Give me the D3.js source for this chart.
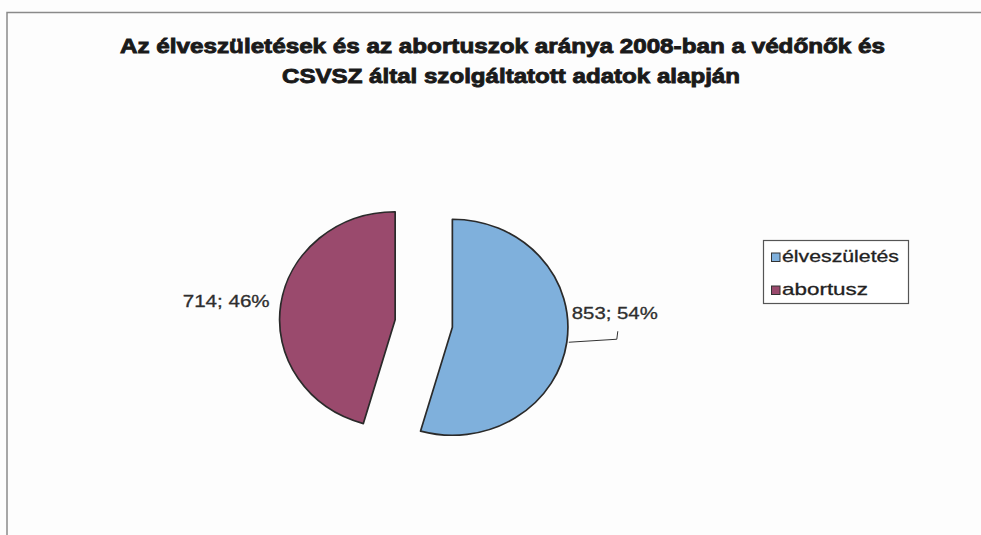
<!DOCTYPE html>
<html>
<head>
<meta charset="utf-8">
<script src="https://cdn.jsdelivr.net/npm/d3@7"></script>
<style>
  html, body { margin: 0; padding: 0; background: #fdfdfd; }
  svg { display: block; }
</style>
</head>
<body>
<svg id="chart" width="981" height="535"></svg>
<script>
// Births vs. abortions, 2008 (health visitors' and CSVSZ data)
const categories = ["élveszületés", "abortusz"];
const values = [853, 714];
const colors = ["#7fb0dc", "#9a4a6d"];
const titleLines = [
  "Az élveszületések és az abortuszok aránya 2008-ban a védőnők és",
  "CSVSZ által szolgáltatott adatok alapján"
];

const svg = d3.select("#chart");
const W = 981, H = 535;

svg.append("rect").attr("width", W).attr("height", H).attr("fill", "#fdfdfd");

// frame (top and left edges of the chart area)
svg.append("path")
  .attr("d", "M7,535 V12.5 H981")
  .attr("fill", "none")
  .attr("stroke", "#8a8a8a")
  .attr("stroke-width", 1.5);

// title
const titleSpec = [
  { y: 53, x0: 120, x1: 885 },
  { y: 83, x0: 282, x1: 740 }
];
titleLines.forEach((t, i) => {
  svg.append("text")
    .attr("x", titleSpec[i].x0)
    .attr("y", titleSpec[i].y)
    .attr("textLength", titleSpec[i].x1 - titleSpec[i].x0)
    .attr("lengthAdjust", "spacingAndGlyphs")
    .attr("font-family", "Liberation Sans, Arial, sans-serif")
    .attr("font-weight", "bold")
    .attr("font-size", 21)
    .attr("fill", "#1a1a1a")
    .attr("stroke", "#1a1a1a")
    .attr("stroke-width", 0.9)
    .text(t);
});

// pie
const cx = 423.75, cy = 323.5;
const r = 108, explode = 27, sx = 1.07;
const total = d3.sum(values);

const pie = d3.pie().sort(null).startAngle(0).endAngle(2 * Math.PI);
const arcs = pie(values);
const arc = d3.arc().innerRadius(0).outerRadius(r);

const g = svg.append("g").attr("transform", `translate(${cx},${cy}) scale(${sx},1)`);

const dir = d => {
  const a = (d.startAngle + d.endAngle) / 2;
  return [Math.sin(a), -Math.cos(a)];
};

g.selectAll("path.slice")
  .data(arcs)
  .join("path")
  .attr("class", "slice")
  .attr("d", arc)
  .attr("transform", d => {
    const [ux, uy] = dir(d);
    return `translate(${ux * explode},${uy * explode})`;
  })
  .attr("fill", (d, i) => colors[i])
  .attr("stroke", "#2a2a2a")
  .attr("stroke-width", 1.7)
  .attr("vector-effect", "non-scaling-stroke")
  .attr("stroke-linejoin", "round");

// data labels
const labelText = (d, i) => `${values[i]}; ${Math.round(values[i] / total * 100)}%`;
const edgePoint = d => {
  const [ux, uy] = dir(d);
  return [cx + sx * (r + explode) * ux, cy + (r + explode) * uy];
};

arcs.forEach((d, i) => {
  const [ex, ey] = edgePoint(d);
  const right = dir(d)[0] > 0;
  if (right) {
    // leader line from slice edge to the label
    svg.append("path")
      .attr("d", `M${ex + 2},${ey} L${ex + 50},${ey - 3} L${ex + 51},${ey - 11}`)
      .attr("fill", "none")
      .attr("stroke", "#333")
      .attr("stroke-width", 1);
    svg.append("text")
      .attr("x", ex + 5)
      .attr("y", ey - 23)
      .attr("textLength", 86)
      .attr("lengthAdjust", "spacingAndGlyphs")
      .attr("font-family", "Liberation Sans, Arial, sans-serif")
      .attr("font-size", 17)
      .attr("fill", "#2e2e2e")
      .attr("stroke", "#2e2e2e")
      .attr("stroke-width", 0.3)
      .text(labelText(d, i));
  } else {
    svg.append("text")
      .attr("x", ex - 98)
      .attr("y", ey + 2.5)
      .attr("textLength", 87)
      .attr("lengthAdjust", "spacingAndGlyphs")
      .attr("font-family", "Liberation Sans, Arial, sans-serif")
      .attr("font-size", 17)
      .attr("fill", "#2e2e2e")
      .attr("stroke", "#2e2e2e")
      .attr("stroke-width", 0.3)
      .text(labelText(d, i));
  }
});

// legend
const legend = svg.append("g");
legend.append("rect")
  .attr("x", 763.5).attr("y", 240.5)
  .attr("width", 145).attr("height", 63)
  .attr("fill", "#fff")
  .attr("stroke", "#555")
  .attr("stroke-width", 1.2);

const legendWidths = [117, 86];
categories.forEach((c, i) => {
  const y = 262 + i * 33;
  legend.append("rect")
    .attr("x", 771.5).attr("y", y - 9)
    .attr("width", 8.5).attr("height", 8.5)
    .attr("fill", colors[i])
    .attr("stroke", "#333")
    .attr("stroke-width", 1);
  legend.append("text")
    .attr("x", 782)
    .attr("y", y)
    .attr("textLength", legendWidths[i])
    .attr("lengthAdjust", "spacingAndGlyphs")
    .attr("font-family", "Liberation Sans, Arial, sans-serif")
    .attr("font-size", 17)
    .attr("fill", "#222")
    .attr("stroke", "#222")
    .attr("stroke-width", 0.3)
    .text(c);
});
</script>
</body>
</html>
